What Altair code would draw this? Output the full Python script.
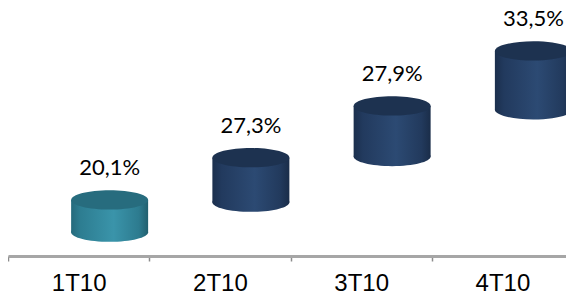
import altair as alt
import pandas as pd

# Data
quarters = ["1T10", "2T10", "3T10", "4T10"]
labels = ["20,1%", "27,3%", "27,9%", "33,5%"]
top_level = [20.1, 23.9, 28.55, 33.5]
bottom_level = [17.2, 19.9, 24.0, 28.2]

df = pd.DataFrame({"q": quarters, "v": top_level, "b": bottom_level, "lab": labels})

grad_teal = {"gradient": "linear", "x1": 0, "y1": 0, "x2": 1, "y2": 0,
             "stops": [{"offset": 0, "color": "#256a7c"},
                       {"offset": 0.12, "color": "#2d7d91"},
                       {"offset": 0.55, "color": "#3a94aa"},
                       {"offset": 0.88, "color": "#2d7b8f"},
                       {"offset": 1, "color": "#215f6e"}]}
grad_navy = {"gradient": "linear", "x1": 0, "y1": 0, "x2": 1, "y2": 0,
             "stops": [{"offset": 0, "color": "#1b2f4d"},
                       {"offset": 0.12, "color": "#223a5e"},
                       {"offset": 0.55, "color": "#2c4a73"},
                       {"offset": 0.88, "color": "#223a5d"},
                       {"offset": 1, "color": "#1a2d49"}]}

is_first = "datum.q === '1T10'"
body_fill = alt.condition(is_first, alt.value(grad_teal), alt.value(grad_navy))
top_fill = alt.condition(is_first, alt.value("#276c7e"), alt.value("#1d3250"))

ellipse = "M -1 0 A 1 0.25 0 1 1 1 0 A 1 0.25 0 1 1 -1 0 Z"
W = 77
OFF = 31

yscale = alt.Scale(domain=[15.06, 37.36], nice=False, zero=False)
x = alt.X("q:N", sort=None, title=None,
          scale=alt.Scale(paddingInner=0, paddingOuter=0, range=[0, 565]),
          axis=alt.Axis(labelAngle=0, tickBand="extent", grid=False,
                        labelFont="Liberation Sans", labelFontSize=24,
                        labelColor="#000000", labelPadding=10,
                        tickSize=5, tickColor="#8c8c8c", tickWidth=1.5,
                        domainColor="#a6a6a6", domainWidth=3))

base = alt.Chart(df)

bottom = base.mark_point(shape=ellipse, size=W * W, filled=True, opacity=1,
                         strokeWidth=0, xOffset=OFF).encode(
    x=x, y=alt.Y("b:Q", scale=yscale, axis=None), fill=body_fill)

body = base.mark_bar(width=W, xOffset=OFF).encode(
    x=x, y=alt.Y("v:Q", scale=yscale, axis=None), y2="b:Q", fill=body_fill)

top = base.mark_point(shape=ellipse, size=W * W, filled=True, opacity=1,
                      strokeWidth=0, xOffset=OFF).encode(
    x=x, y=alt.Y("v:Q", scale=yscale, axis=None), fill=top_fill)

text = base.mark_text(font="Lato", fontSize=22, dy=-32, xOffset=OFF,
                      baseline="middle", color="#000000").encode(
    x=x, y=alt.Y("v:Q", scale=yscale, axis=None), text="lab:N")

chart = alt.layer(bottom, body, top, text).properties(
    width=558, height=248,
    autosize=alt.AutoSizeParams(type="none"),
    padding={"left": 0, "top": 0, "right": 0, "bottom": 37}
).configure_view(stroke=None)

chart.save("out.html", embed_options={"renderer": "svg", "actions": False})
